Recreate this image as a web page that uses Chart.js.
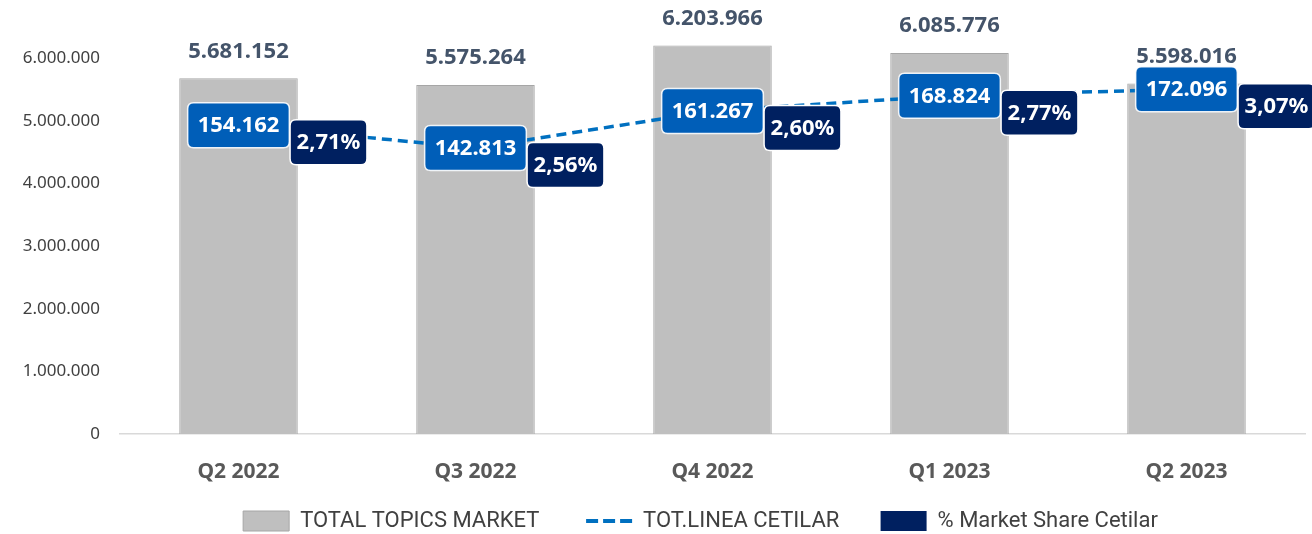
<!DOCTYPE html>
<html>
<head>
<meta charset="utf-8">
<title>Market share Cetilar</title>
<script src="https://cdn.jsdelivr.net/npm/chart.js@4.4.0/dist/chart.umd.min.js"></script>
<style>
    html, body { margin: 0; padding: 0; background: #fff; }
    #wrap { position: relative; width: 1312px; height: 534px; }
</style>
</head>
<body>
<div id="wrap"><canvas id="chart"></canvas></div>
<script>
/* ---- data ---- */
const quarters = ['Q2 2022', 'Q3 2022', 'Q4 2022', 'Q1 2023', 'Q2 2023'];
const totalMarket = [5681152, 5575264, 6203966, 6085776, 5598016];
const lineaCetilar = [154162, 142813, 161267, 168824, 172096];
const marketShare = [2.71, 2.56, 2.60, 2.77, 3.07];
const yTickValues = [0, 1000000, 2000000, 3000000, 4000000, 5000000, 6000000];

const NUM_FONT = '"Noto Sans", "Open Sans", sans-serif';
const Y_MAX = 6450000;          // primary axis top
const Y2_MAX = Y_MAX / 32;      // hidden axis for the Cetilar line

// 1234567 -> 1.234.567
const fmtThousands = v => String(v).replace(/\B(?=(\d{3})+(?!\d))/g, '.');
const fmtPct = v => v.toFixed(2).replace('.', ',') + '%';

function roundedBox(ctx, cx, cy, w, h, r, fill, stroke) {
    const x = cx - w / 2, y = cy - h / 2;
    ctx.beginPath();
    ctx.moveTo(x + r, y);
    ctx.lineTo(x + w - r, y);
    ctx.quadraticCurveTo(x + w, y, x + w, y + r);
    ctx.lineTo(x + w, y + h - r);
    ctx.quadraticCurveTo(x + w, y + h, x + w - r, y + h);
    ctx.lineTo(x + r, y + h);
    ctx.quadraticCurveTo(x, y + h, x, y + h - r);
    ctx.lineTo(x, y + r);
    ctx.quadraticCurveTo(x, y, x + r, y);
    ctx.closePath();
    ctx.fillStyle = fill;
    ctx.fill();
    ctx.lineWidth = 1.5;
    ctx.strokeStyle = stroke;
    ctx.stroke();
}

/* ---- value labels: totals above bars, boxed labels on the line ---- */
const boxLabels = {
    id: 'boxLabels',
    afterDatasetsDraw(chart) {
        const ctx = chart.ctx;
        const bars = chart.getDatasetMeta(0).data;
        const pts = chart.getDatasetMeta(1).data;
        ctx.save();
        ctx.font = 'bold 22px ' + NUM_FONT;
        ctx.textAlign = 'center';
        ctx.textBaseline = 'middle';

        bars.forEach((bar, i) => {
            ctx.fillStyle = '#44546A';
            ctx.fillText(fmtThousands(totalMarket[i]), bar.x, bar.y - 27);
        });

        pts.forEach((pt, i) => {
            const t = fmtThousands(lineaCetilar[i]);
            const w = ctx.measureText(t).width + 20;
            roundedBox(ctx, pt.x, pt.y, w, 45, 6, '#005EB8', 'rgba(255,255,255,0.9)');
            ctx.fillStyle = '#fff';
            ctx.fillText(t, pt.x, pt.y + 1);

            const s = fmtPct(marketShare[i]);
            const w2 = ctx.measureText(s).width + 13;
            const px = pt.x + 90, py = pt.y + 17;
            roundedBox(ctx, px, py, w2, 45, 6, '#002060', '#ffffff');
            ctx.fillStyle = '#fff';
            ctx.fillText(s, px, py + 1);
        });
        ctx.restore();
    }
};

// legend: tighter vertical box, row nudged right like the original
const legendTweak = {
    id: 'legendTweak',
    beforeInit(chart) {
        const fit = chart.legend.fit;
        chart.legend.fit = function () {
            fit.call(this);
            this.height -= 8;
        };
    },
    afterLayout(chart) {
        chart.legend.left += 48;
        chart.legend.right += 48;
    }
};

new Chart(document.getElementById('chart'), {
    data: {
        labels: quarters,
        datasets: [
            {
                type: 'bar',
                label: 'TOTAL TOPICS MARKET',
                data: totalMarket,
                backgroundColor: '#BFBFBF',
                borderColor: '#A6A6A6',
                borderWidth: 1,
                borderSkipped: 'bottom',
                categoryPercentage: 1,
                barPercentage: 0.5,
                yAxisID: 'y',
                order: 3
            },
            {
                type: 'line',
                label: 'TOT.LINEA CETILAR',
                data: lineaCetilar,
                borderColor: '#0070C0',
                borderWidth: 3.5,
                borderDash: [10, 6],
                pointRadius: 0,
                fill: false,
                tension: 0,
                yAxisID: 'y2',
                order: 1
            },
            {
                type: 'line',
                label: '% Market Share Cetilar',
                data: marketShare,
                showLine: false,
                pointRadius: 0,
                yAxisID: 'y3',
                order: 2
            }
        ]
    },
    options: {
        responsive: true,
        maintainAspectRatio: false,
        animation: false,
        layout: { padding: { top: 10, right: 7, left: 0, bottom: 0 } },
        scales: {
            x: {
                grid: { display: false, drawTicks: false },
                border: { display: true, color: '#D9D9D9', width: 1.5 },
                ticks: {
                    color: '#595959',
                    padding: 25,
                    font: { family: NUM_FONT, size: 21, weight: 'bold' }
                },
                afterFit(scale) { scale.height = 62; }
            },
            y: {
                min: 0,
                max: Y_MAX,
                grid: { display: false, drawTicks: false },
                border: { display: false },
                afterBuildTicks(scale) {
                    scale.ticks = yTickValues.map(v => ({ value: v }));
                },
                ticks: {
                    color: '#404040',
                    padding: 20,
                    font: { family: NUM_FONT, size: 17 },
                    callback: v => fmtThousands(v)
                },
                afterFit(scale) { scale.width = 120; }
            },
            y2: { display: false, min: 0, max: Y2_MAX },
            y3: { display: false, min: 0, max: 10 }
        },
        plugins: {
            tooltip: { enabled: false },
            legend: {
                position: 'bottom',
                labels: {
                    usePointStyle: true,
                    pointStyleWidth: 46,
                    boxHeight: 20,
                    padding: 14,
                    color: '#404040',
                    font: { family: 'Roboto, "Liberation Sans", sans-serif', size: 22 },
                    generateLabels: () => [
                        { text: 'TOTAL TOPICS MARKET      ', fillStyle: '#BFBFBF', strokeStyle: '#A6A6A6', lineWidth: 1, pointStyle: 'rect', fontColor: '#404040' },
                        { text: 'TOT.LINEA CETILAR     ', fillStyle: 'rgba(0,0,0,0)', strokeStyle: '#0070C0', lineWidth: 4, lineDash: [12, 5], pointStyle: 'line', fontColor: '#404040' },
                        { text: '% Market Share Cetilar', fillStyle: '#002060', strokeStyle: '#002060', lineWidth: 0, pointStyle: 'rect', fontColor: '#404040' }
                    ]
                }
            }
        }
    },
    plugins: [boxLabels, legendTweak]
});
</script>
</body>
</html>
